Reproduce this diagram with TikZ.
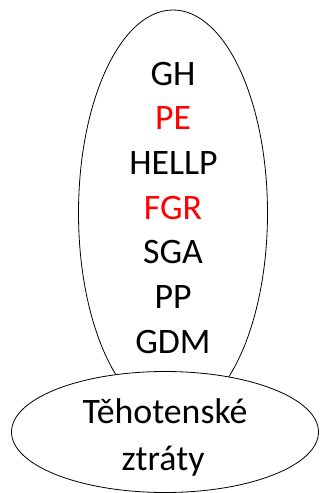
\documentclass[tikz,border=0pt]{standalone}
\usepackage{fontspec}
\setmainfont{Carlito}
\usetikzlibrary{shapes.geometric}
\definecolor{pred}{RGB}{255,0,0}
\tikzset{
  oval/.style={draw=black, line width=0.8pt, ellipse, inner sep=0pt},
  lbl/.style={anchor=base, inner sep=0pt, font=\fontsize{35.8}{40}\selectfont},
  redlbl/.style={lbl, text=pred}
}
\begin{document}
\begin{tikzpicture}[x=1pt,y=-1pt]
\useasboundingbox (0,0) rectangle (320,493);
\node[oval, minimum width=189pt, minimum height=406pt] (big) at (173,213) {};
\node[lbl] (gh) at (173,85) {GH};
\node[redlbl] (pe) at (173,129.7) {PE};
\node[lbl] (hellp) at (173.5,174.3) {HELLP};
\node[redlbl] (fgr) at (173,219) {FGR};
\node[lbl] (sga) at (173,263.7) {SGA};
\node[lbl] (pp) at (173,308.3) {PP};
\node[lbl] (gdm) at (173,353) {GDM};
\node[oval, fill=white, minimum width=307pt, minimum height=121pt] (small) at (165,432) {};
\node[lbl] (t1) at (165,423) {Těhotenské};
\node[lbl] (t2) at (163,470) {ztráty};
\end{tikzpicture}
\end{document}
